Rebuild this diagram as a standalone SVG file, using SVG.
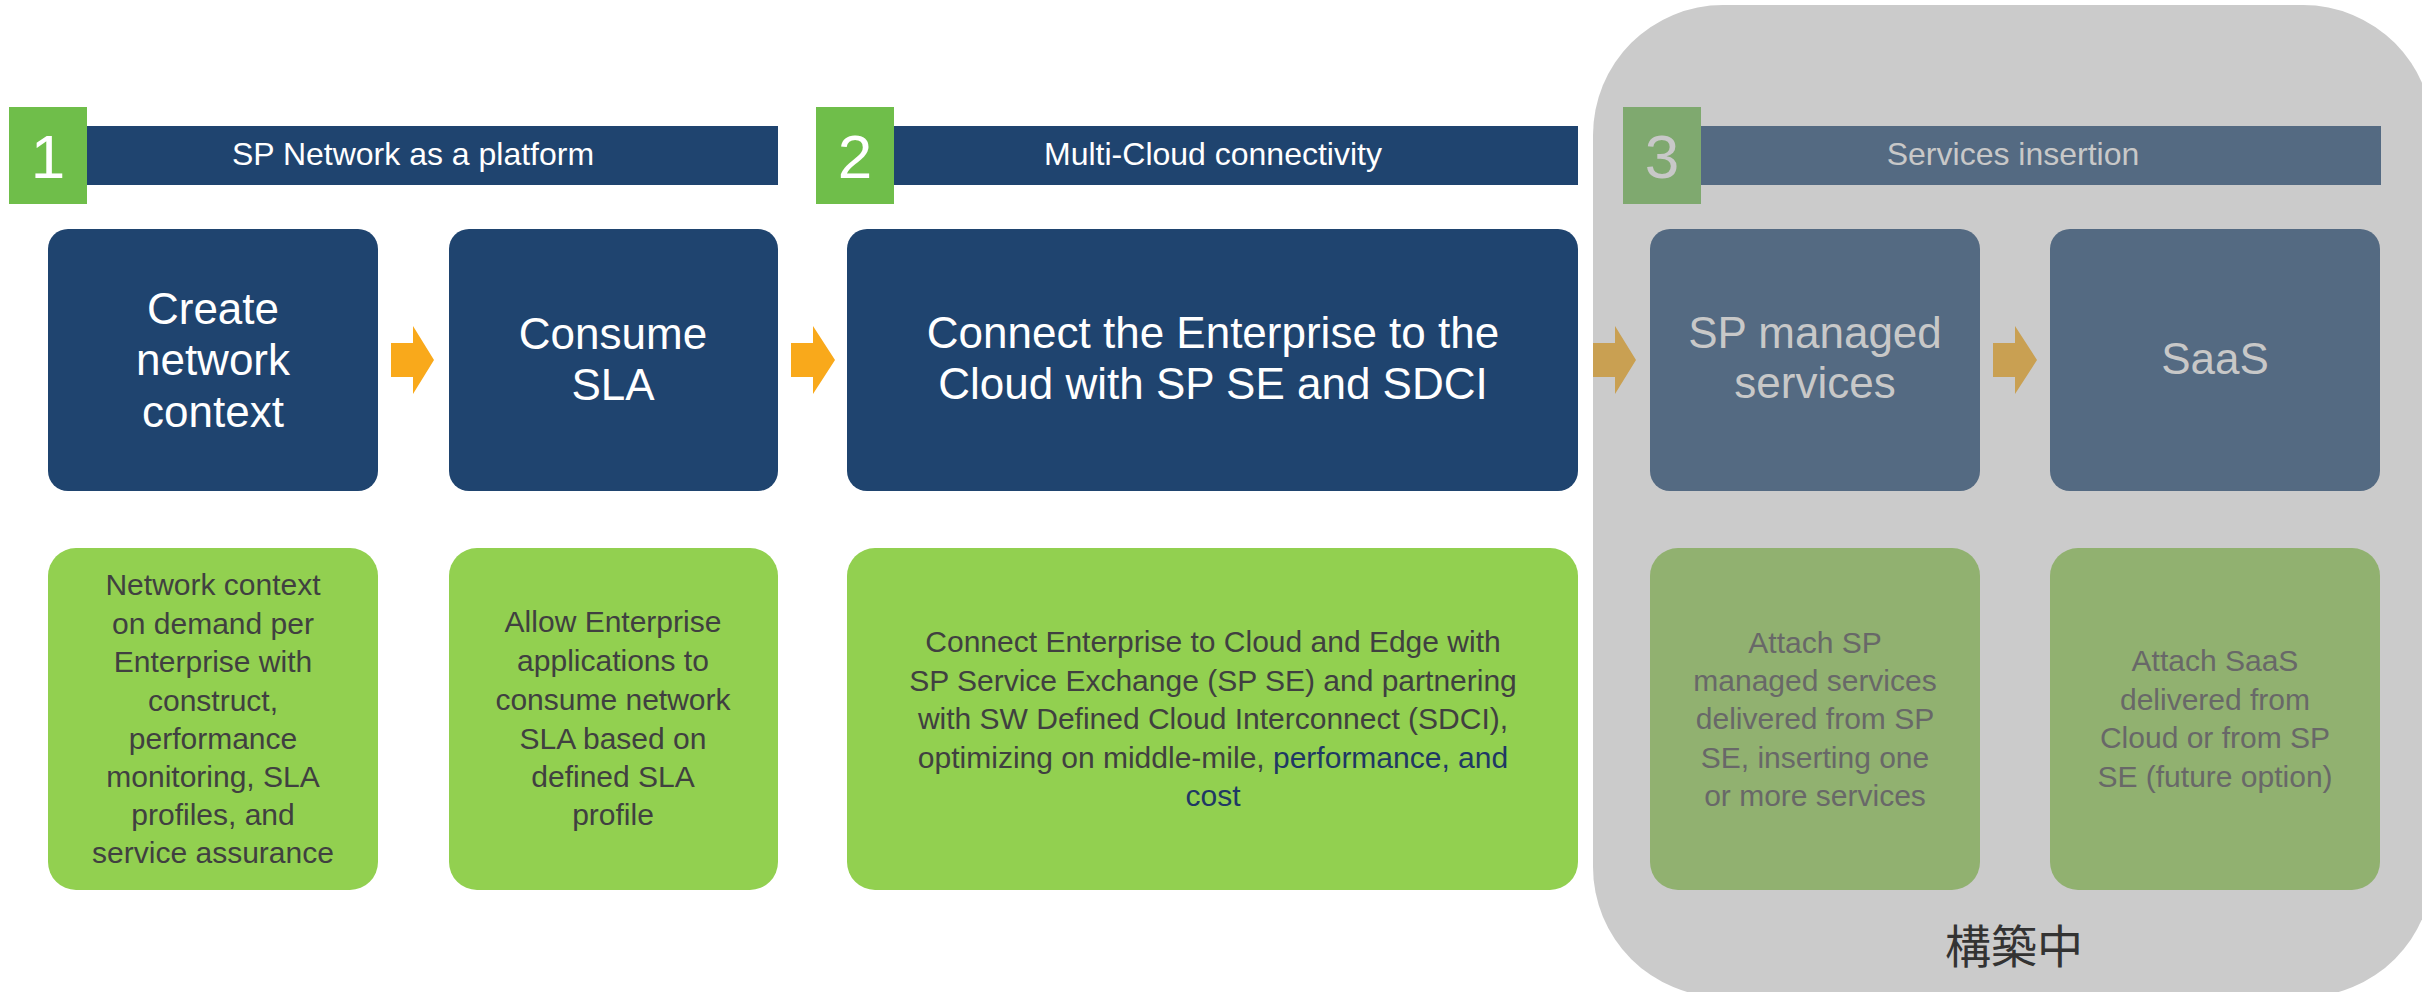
<svg xmlns="http://www.w3.org/2000/svg" width="2422" height="992" viewBox="0 0 2422 992">
<style>
text{font-family:"Liberation Sans",Arial,sans-serif;text-anchor:middle}
.bar{fill:#1F446F}
.sq{fill:#6FBE4A}
.node{fill:#1F446F}
.desc{fill:#92D050}
.hd{fill:#FFFFFF;font-size:32px}
.num{fill:#FFFFFF;font-size:62px}
.nt{fill:#FFFFFF;font-size:44px}
.dt{fill:#404040;font-size:30px}
.navy{fill:#1F3864}
.arr{fill:#F9A91B}
.g-bar{fill:#546A82}
.g-sq{fill:#7FA96F}
.g-node{fill:#546A82}
.g-desc{fill:#91B170}
.g-hd{fill:#C8C8C8;font-size:32px}
.g-num{fill:#C8C8C8;font-size:62px}
.g-nt{fill:#C8C8C8;font-size:44px}
.g-dt{fill:#686868;font-size:30px}
.g-arr{fill:#C9A052}
</style>
<rect id="wip-area" x="1593" y="5" width="840" height="992" rx="130" ry="130" fill="#CBCBCB"/>
<text x="2014" y="963" style="font-family:'Noto Sans CJK JP','Noto Sans CJK SC',sans-serif;font-size:46px;fill:#333333">構築中</text>

<g id="section1">
<rect class="bar" x="87" y="126" width="691" height="59"/>
<rect class="sq" x="9" y="107" width="78" height="97"/>
<text class="num" x="48" y="178">1</text>
<text class="hd" x="413" y="165">SP Network as a platform</text>
</g>
<g id="section2">
<rect class="bar" x="894" y="126" width="684" height="59"/>
<rect class="sq" x="816" y="107" width="78" height="97"/>
<text class="num" x="855" y="178">2</text>
<text class="hd" x="1213" y="165">Multi-Cloud connectivity</text>
</g>
<g id="section3">
<rect class="g-bar" x="1701" y="126" width="680" height="59"/>
<rect class="g-sq" x="1623" y="107" width="78" height="97"/>
<text class="g-num" x="1662" y="178">3</text>
<text class="g-hd" x="2013" y="165">Services insertion</text>
</g>

<g id="create-context">
<rect class="node" x="48" y="229" width="330" height="262" rx="20"/>
<text class="nt" x="213" y="324">Create</text>
<text class="nt" x="213" y="375">network</text>
<text class="nt" x="213" y="427">context</text>
</g>
<g id="consume-sla">
<rect class="node" x="449" y="229" width="329" height="262" rx="20"/>
<text class="nt" x="613" y="349">Consume</text>
<text class="nt" x="613" y="400">SLA</text>
</g>
<g id="connect-enterprise">
<rect class="node" x="847" y="229" width="731" height="262" rx="20"/>
<text class="nt" x="1213" y="348">Connect the Enterprise to the</text>
<text class="nt" x="1213" y="399">Cloud with SP SE and SDCI</text>
</g>
<g id="sp-managed">
<rect class="g-node" x="1650" y="229" width="330" height="262" rx="20"/>
<text class="g-nt" x="1815" y="348">SP managed</text>
<text class="g-nt" x="1815" y="398">services</text>
</g>
<g id="saas">
<rect class="g-node" x="2050" y="229" width="330" height="262" rx="20"/>
<text class="g-nt" x="2215" y="374">SaaS</text>
</g>

<g id="desc-context">
<rect class="desc" x="48" y="548" width="330" height="342" rx="28"/>
<text class="dt" x="213" y="595">Network context</text>
<text class="dt" x="213" y="634">on demand per</text>
<text class="dt" x="213" y="672">Enterprise with</text>
<text class="dt" x="213" y="711">construct,</text>
<text class="dt" x="213" y="749">performance</text>
<text class="dt" x="213" y="787">monitoring, SLA</text>
<text class="dt" x="213" y="825">profiles, and</text>
<text class="dt" x="213" y="863">service assurance</text>
</g>
<g id="desc-sla">
<rect class="desc" x="449" y="548" width="329" height="342" rx="28"/>
<text class="dt" x="613" y="632">Allow Enterprise</text>
<text class="dt" x="613" y="671">applications to</text>
<text class="dt" x="613" y="710">consume network</text>
<text class="dt" x="613" y="749">SLA based on</text>
<text class="dt" x="613" y="787">defined SLA</text>
<text class="dt" x="613" y="825">profile</text>
</g>
<g id="desc-connect">
<rect class="desc" x="847" y="548" width="731" height="342" rx="28"/>
<text class="dt" x="1213" y="652">Connect Enterprise to Cloud and Edge with</text>
<text class="dt" x="1213" y="691">SP Service Exchange (SP SE) and partnering</text>
<text class="dt" x="1213" y="729">with SW Defined Cloud Interconnect (SDCI),</text>
<text class="dt" x="1213" y="768">optimizing on middle-mile, <tspan class="navy">performance, and</tspan></text>
<text class="dt navy" x="1213" y="806">cost</text>
</g>
<g id="desc-managed">
<rect class="g-desc" x="1650" y="548" width="330" height="342" rx="28"/>
<text class="g-dt" x="1815" y="653">Attach SP</text>
<text class="g-dt" x="1815" y="691">managed services</text>
<text class="g-dt" x="1815" y="729">delivered from SP</text>
<text class="g-dt" x="1815" y="768">SE, inserting one</text>
<text class="g-dt" x="1815" y="806">or more services</text>
</g>
<g id="desc-saas">
<rect class="g-desc" x="2050" y="548" width="330" height="342" rx="28"/>
<text class="g-dt" x="2215" y="671">Attach SaaS</text>
<text class="g-dt" x="2215" y="710">delivered from</text>
<text class="g-dt" x="2215" y="748">Cloud or from SP</text>
<text class="g-dt" x="2215" y="787">SE (future option)</text>
</g>

<g id="connectors">
<path class="arr" d="M391,343H413V326L434,360L413,394V377H391Z"/>
<path class="arr" d="M791,343H813V326L835,360L813,394V377H791Z"/>
<path class="g-arr" d="M1593,343H1615V326L1636,360L1615,394V377H1593Z"/>
<path class="g-arr" d="M1993,343H2015V326L2037,360L2015,394V377H1993Z"/>
</g>
</svg>
